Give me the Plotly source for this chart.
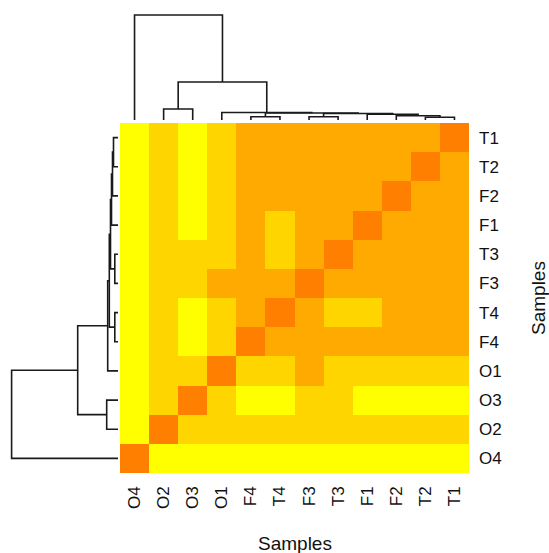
import plotly.graph_objects as go

# ---- data ----
samples = ["O4", "O2", "O3", "O1", "F4", "T4", "F3", "T3", "F1", "F2", "T2", "T1"]  # leaf order (columns left->right, rows bottom->top)

# similarity level per cell (0 = lowest .. 3 = highest); rows listed top -> bottom
row_labels_top_down = ["T1", "T2", "F2", "F1", "T3", "F3", "T4", "F4", "O1", "O3", "O2", "O4"]
levels_top_down = [
    [0, 1, 0, 1, 2, 2, 2, 2, 2, 2, 2, 3],
    [0, 1, 0, 1, 2, 2, 2, 2, 2, 2, 3, 2],
    [0, 1, 0, 1, 2, 2, 2, 2, 2, 3, 2, 2],
    [0, 1, 0, 1, 2, 1, 2, 2, 3, 2, 2, 2],
    [0, 1, 1, 1, 2, 1, 2, 3, 2, 2, 2, 2],
    [0, 1, 1, 2, 2, 2, 3, 2, 2, 2, 2, 2],
    [0, 1, 0, 1, 2, 3, 2, 1, 1, 2, 2, 2],
    [0, 1, 0, 1, 3, 2, 2, 2, 2, 2, 2, 2],
    [0, 1, 1, 3, 1, 1, 2, 1, 1, 1, 1, 1],
    [0, 1, 3, 1, 0, 0, 1, 1, 0, 0, 0, 0],
    [0, 3, 1, 1, 1, 1, 1, 1, 1, 1, 1, 1],
    [3, 0, 0, 0, 0, 0, 0, 0, 0, 0, 0, 0],
]
level_colors = ["#FFFF00", "#FFD500", "#FFAA00", "#FF8000"]

# hierarchical clustering merges: (node, left child, right child)
merges = [
    ("n1", "T2", "T1"),
    ("n2", "F2", "n1"),
    ("n3", "F1", "n2"),
    ("n4", "F3", "T3"),
    ("n5", "n4", "n3"),
    ("n6", "F4", "T4"),
    ("n7", "n6", "n5"),
    ("n8", "O1", "n7"),
    ("n9", "O2", "O3"),
    ("n10", "n9", "n8"),
    ("n11", "O4", "n10"),
]
# merge heights as drawn (column dendrogram / row dendrogram)
col_heights = {"n1": 2.7, "n2": 4.3, "n3": 5.7, "n4": 3.3, "n5": 6.5, "n6": 3.3,
               "n7": 7.0, "n8": 7.5, "n9": 11.0, "n10": 38.0, "n11": 105.0}
row_heights = {"n1": 4.5, "n2": 5.5, "n3": 6.5, "n4": 3.2, "n5": 7.5, "n6": 3.2,
               "n7": 8.7, "n8": 10.3, "n9": 11.3, "n10": 40.3, "n11": 106.4}


def dendro(order, merges, heights):
    pos = {n: i for i, n in enumerate(order)}
    hh = {n: 0.0 for n in order}
    xs, ys = [], []
    for node, a, b in merges:
        H = heights[node]
        xs += [pos[a], pos[a], pos[b], pos[b], None]
        ys += [hh[a], H, H, hh[b], None]
        pos[node] = (pos[a] + pos[b]) / 2
        hh[node] = H
    return xs, ys


# z with rows bottom -> top matching samples order
z = [levels_top_down[row_labels_top_down.index(s)] for s in samples]
idx = list(range(len(samples)))

W, H = 549, 553
hm_x0, hm_x1 = 120, 469
hm_y0, hm_y1 = 123, 473  # from top

n = len(level_colors)
cs = []
for i, c in enumerate(level_colors):
    cs.append([i / n, c])
    cs.append([(i + 1) / n, c])

fig = go.Figure()
fig.add_trace(go.Heatmap(z=z, x=idx, y=idx, colorscale=cs, zmin=-0.5, zmax=n - 0.5,
                         showscale=False, xaxis="x", yaxis="y", hoverinfo="skip"))

cx, cy = dendro(samples, merges, col_heights)
fig.add_trace(go.Scatter(x=cx, y=cy, mode="lines", line=dict(color="#1a1a1a", width=1.6),
                         xaxis="x2", yaxis="y2", hoverinfo="skip", showlegend=False))
rx, ry = dendro(samples, merges, row_heights)
fig.add_trace(go.Scatter(x=ry, y=rx, mode="lines", line=dict(color="#1a1a1a", width=1.6),
                         xaxis="x3", yaxis="y3", hoverinfo="skip", showlegend=False))

font = dict(family="Liberation Sans, Arial, sans-serif", size=17, color="#111111")
hm_xdom = [hm_x0 / W, hm_x1 / W]
hm_ydom = [(H - hm_y1) / H, (H - hm_y0) / H]
rng = [-0.5, len(samples) - 0.5]

fig.update_layout(
    width=W, height=H, margin=dict(l=0, r=0, t=0, b=0),
    paper_bgcolor="white", plot_bgcolor="white", font=font, showlegend=False,
    xaxis=dict(domain=hm_xdom, range=rng, anchor="y", tickmode="array", tickvals=idx,
               ticktext=samples, tickangle=-90, ticks="", showgrid=False, zeroline=False,
               showline=False, tickfont=font, ticklabelstandoff=9),
    yaxis=dict(domain=hm_ydom, range=rng, anchor="x", side="right", tickmode="array",
               tickvals=idx, ticktext=samples, ticks="", showgrid=False, zeroline=False,
               showline=False, tickfont=font, ticklabelstandoff=9),
    xaxis2=dict(domain=hm_xdom, range=rng, anchor="y2", visible=False),
    yaxis2=dict(domain=[(H - 120) / H, 1], range=[0, 120], anchor="x2", visible=False),
    xaxis3=dict(domain=[0, 118 / W], range=[118, 0], anchor="y3", visible=False),
    yaxis3=dict(domain=hm_ydom, range=rng, anchor="x3", visible=False),
    annotations=[
        dict(text="Samples", x=(hm_x0 + hm_x1) / 2 / W, y=(H - 543) / H, xref="paper",
             yref="paper", showarrow=False, xanchor="center", yanchor="middle",
             font=dict(family=font["family"], size=19, color="#111111")),
        dict(text="Samples", x=538 / W, y=(H - 298) / H, xref="paper", yref="paper",
             showarrow=False, xanchor="center", yanchor="middle", textangle=-90,
             font=dict(family=font["family"], size=19, color="#111111")),
    ],
)

fig.write_html("out.html", config={"displayModeBar": False},
               post_script="document.body.style.margin='0';document.body.style.padding='0';")
